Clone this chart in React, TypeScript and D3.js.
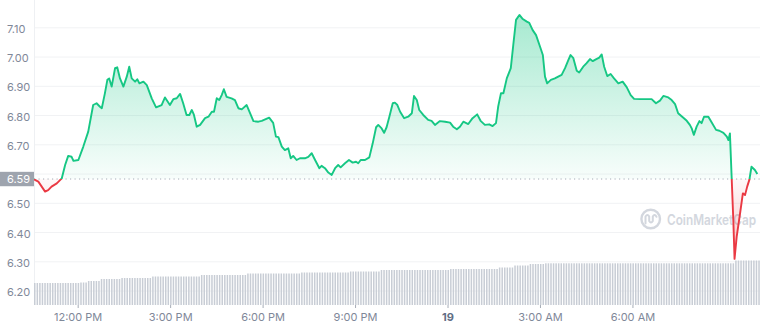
import React from "react";
import * as d3 from "d3";

const W = 760;
const H = 327;

// window start (10:34 AM, day 18) and span in hours
const START = Date.UTC(2023, 0, 18, 10, 34);
const HOUR = 3600e3;
const WINDOW_HOURS = 23.556;

// hours since window start
const PRICE_HOURS = [
  0, 0.14, 0.36, 0.46, 0.57, 0.74, 0.9, 1.01, 1.11, 1.22, 1.28, 1.44, 1.6, 1.76, 1.92, 2.03, 2.14, 2.2, 2.3, 2.38,
  2.44, 2.52, 2.63, 2.7, 2.79, 2.9, 3.01, 3.09, 3.17, 3.28, 3.35, 3.42, 3.55, 3.66, 3.82, 3.96, 4.14, 4.25, 4.41, 4.52,
  4.63, 4.74, 4.84, 4.95, 5.04, 5.12, 5.19, 5.28, 5.39, 5.55, 5.66, 5.77, 5.84, 5.93, 6.01, 6.09, 6.16, 6.25, 6.41, 6.52,
  6.63, 6.74, 6.9, 7.01, 7.12, 7.28, 7.39, 7.5, 7.63, 7.76, 7.85, 7.93, 8.04, 8.14, 8.25, 8.33, 8.41, 8.52, 8.63, 8.79,
  8.9, 9.01, 9.12, 9.26, 9.33, 9.44, 9.55, 9.66, 9.77, 9.87, 9.95, 10.09, 10.22, 10.34, 10.45, 10.52, 10.6, 10.74, 10.88, 10.99,
  11.1, 11.17, 11.28, 11.36, 11.44, 11.53, 11.64, 11.71, 11.79, 11.88, 12.01, 12.14, 12.26, 12.33, 12.42, 12.5, 12.63, 12.79, 12.9, 13.01,
  13.17, 13.34, 13.5, 13.6, 13.72, 13.82, 13.93, 14.09, 14.23, 14.38, 14.49, 14.63, 14.77, 14.88, 14.99, 15.06, 15.15, 15.23, 15.34, 15.47,
  15.55, 15.64, 15.75, 15.86, 15.99, 16.07, 16.18, 16.29, 16.42, 16.51, 16.58, 16.65, 16.77, 16.9, 17.04, 17.12, 17.23, 17.34, 17.41, 17.5,
  17.61, 17.69, 17.82, 17.93, 18.04, 18.13, 18.23, 18.34, 18.42, 18.5, 18.6, 18.71, 18.82, 18.96, 19.1, 19.23, 19.36, 19.47, 19.66, 19.88,
  20.04, 20.18, 20.31, 20.42, 20.58, 20.69, 20.8, 20.9, 21.05, 21.18, 21.28, 21.34, 21.41, 21.5, 21.59, 21.66, 21.74, 21.88, 21.99, 22.13,
  22.24, 22.37, 22.48, 22.53, 22.58, 22.61, 22.69, 22.73, 22.8, 22.91, 23.0, 23.07, 23.14, 23.21, 23.28, 23.39, 23.47,
];

const PRICES = [
  6.582, 6.574, 6.54, 6.545, 6.557, 6.568, 6.585, 6.631, 6.662, 6.659, 6.645, 6.648, 6.694, 6.745, 6.836, 6.842, 6.83, 6.825, 6.876, 6.922,
  6.927, 6.899, 6.962, 6.965, 6.927, 6.899, 6.933, 6.967, 6.927, 6.916, 6.924, 6.91, 6.916, 6.904, 6.859, 6.828, 6.836, 6.862, 6.836, 6.856,
  6.859, 6.874, 6.842, 6.802, 6.802, 6.819, 6.802, 6.762, 6.768, 6.791, 6.796, 6.813, 6.813, 6.859, 6.853, 6.87, 6.89, 6.864, 6.859, 6.853,
  6.825, 6.821, 6.836, 6.808, 6.781, 6.779, 6.782, 6.787, 6.793, 6.775, 6.728, 6.726, 6.694, 6.682, 6.688, 6.654, 6.662, 6.648, 6.654, 6.654,
  6.659, 6.671, 6.648, 6.62, 6.628, 6.62, 6.605, 6.597, 6.62, 6.631, 6.623, 6.637, 6.648, 6.639, 6.642, 6.637, 6.648, 6.648, 6.657, 6.705,
  6.76, 6.768, 6.756, 6.741, 6.76, 6.796, 6.842, 6.844, 6.836, 6.813, 6.791, 6.796, 6.808, 6.867, 6.853, 6.819, 6.802, 6.785, 6.782, 6.768,
  6.781, 6.779, 6.776, 6.762, 6.753, 6.762, 6.779, 6.771, 6.791, 6.804, 6.782, 6.768, 6.77, 6.764, 6.774, 6.83, 6.876, 6.876, 6.927, 6.962,
  7.041, 7.127, 7.144, 7.13, 7.121, 7.117, 7.092, 7.075, 7.035, 7.007, 6.933, 6.91, 6.922, 6.927, 6.935, 6.939, 6.962, 6.99, 7.007, 6.996,
  6.953, 6.947, 6.967, 6.979, 6.993, 6.986, 6.992, 6.998, 7.009, 6.967, 6.935, 6.942, 6.927, 6.91, 6.916, 6.897, 6.87, 6.857, 6.856, 6.856,
  6.856, 6.842, 6.851, 6.867, 6.862, 6.853, 6.839, 6.808, 6.794, 6.782, 6.768, 6.756, 6.734, 6.762, 6.781, 6.774, 6.796, 6.796, 6.776, 6.751,
  6.748, 6.741, 6.728, 6.716, 6.739, 6.659, 6.443, 6.31, 6.386, 6.466, 6.534, 6.528, 6.557, 6.58, 6.625, 6.614, 6.6,
];

const OPEN_PRICE = 6.583;
const OPEN_LABEL = "6.59";

const Y_TICKS = [7.1, 7.0, 6.9, 6.8, 6.7, 6.6, 6.5, 6.4, 6.3, 6.2];

const X_TICKS = [
  "2023-01-18T12:00:00Z",
  "2023-01-18T15:00:00Z",
  "2023-01-18T18:00:00Z",
  "2023-01-18T21:00:00Z",
  "2023-01-19T00:00:00Z",
  "2023-01-19T03:00:00Z",
  "2023-01-19T06:00:00Z",
];
const X_TICK_LABELS = ["12:00 PM", "3:00 PM", "6:00 PM", "9:00 PM", "19", "3:00 AM", "6:00 AM"];

// 24h volume (arbitrary units), 5-minute bars, run-length: [bars, value]
const VOLUME_RUNS: [number, number][] = [
  [18, 22], [3, 22.5], [5, 24], [8, 26], [12, 27], [19, 28.5], [18, 30], [21, 31.5], [19, 32.5],
  [12, 33.5], [27, 35], [19, 36], [6, 37.5], [6, 39.5], [6, 41], [74, 41.7], [10, 44.5],
];
const VOLUME_MAX = 45;
const BAR_MINUTES = 5;

const GREEN = "#16c784";
const RED = "#ea3943";
const FONT = "Inter, 'Noto Sans', sans-serif";

export default function App() {
  const x = d3
    .scaleUtc()
    .domain([new Date(START), new Date(START + WINDOW_HOURS * HOUR)])
    .range([34, 760]);
  const y = d3.scaleLinear().domain([6.2, 7.1]).range([291.05, 27.8]);
  const yv = d3.scaleLinear().domain([0, VOLUME_MAX]).range([305, 260]);

  const data = PRICE_HOURS.map((h, i) => ({ t: new Date(START + h * HOUR), p: PRICES[i] }));
  const yBase = y(OPEN_PRICE);

  const line = d3
    .line<{ t: Date; p: number }>()
    .x((d) => x(d.t))
    .y((d) => y(d.p));
  const area = d3
    .area<{ t: Date; p: number }>()
    .x((d) => x(d.t))
    .y0(yBase)
    .y1((d) => y(d.p));

  const volumes: number[] = [];
  VOLUME_RUNS.forEach(([n, v]) => {
    for (let k = 0; k < n; k++) volumes.push(v);
  });

  const pMax = d3.max(PRICES) as number;
  const pMin = d3.min(PRICES) as number;

  return (
    <svg
      width={W}
      height={H}
      style={{ position: "absolute", left: 0, top: 0, background: "#fff" }}
      fontFamily={FONT}
    >
      <defs>
        <linearGradient id="gUp" gradientUnits="userSpaceOnUse" x1={0} x2={0} y1={y(pMax)} y2={yBase}>
          <stop offset="0%" stopColor={GREEN} stopOpacity={0.38} />
          <stop offset="100%" stopColor={GREEN} stopOpacity={0.03} />
        </linearGradient>
        <linearGradient id="gDown" gradientUnits="userSpaceOnUse" x1={0} x2={0} y1={yBase} y2={y(pMin)}>
          <stop offset="0%" stopColor={RED} stopOpacity={0.03} />
          <stop offset="100%" stopColor={RED} stopOpacity={0.3} />
        </linearGradient>
        <clipPath id="cUp">
          <rect x={0} y={0} width={W} height={yBase} />
        </clipPath>
        <clipPath id="cDown">
          <rect x={0} y={yBase} width={W} height={H - yBase} />
        </clipPath>
      </defs>

      {/* grid */}
      {Y_TICKS.map((t) => (
        <line key={t} x1={34} x2={W} y1={y(t)} y2={y(t)} stroke="#f1f2f4" strokeWidth={1} />
      ))}
      <line x1={34.5} x2={34.5} y1={0} y2={305} stroke="#eef0f3" strokeWidth={1} />

      {/* volume bars */}
      {volumes.map((v, i) => {
        const bx = x(new Date(START + i * BAR_MINUTES * 60e3));
        return <rect key={i} x={bx} y={yv(v)} width={1.5} height={yv(0) - yv(v)} fill="#c8cdd5" />;
      })}

      {/* watermark */}
      <g opacity={1}>
        <circle cx={650.7} cy={219} r={9.3} fill="none" stroke="#d3d7de" strokeWidth={2.4} />
        <path
          d="M645.5,223.5 L645.5,216.5 Q647.5,213.5 649.2,216.5 L649.2,221 Q651,224 652.8,221 L652.8,216.5 Q654.5,213.5 656.5,216.8"
          fill="none"
          stroke="#d3d7de"
          strokeWidth={2}
          strokeLinecap="round"
        />
        <text
          x={667}
          y={219}
          dominantBaseline="central"
          fontSize={14}
          fontWeight={600}
          fill="#d3d7de"
          textLength={89}
          lengthAdjust="spacingAndGlyphs"
        >
          CoinMarketCap
        </text>
      </g>

      {/* areas */}
      <path d={area(data) || ""} fill="url(#gUp)" clipPath="url(#cUp)" />
      <path d={area(data) || ""} fill="url(#gDown)" clipPath="url(#cDown)" />

      {/* baseline */}
      <line x1={34} x2={W} y1={yBase} y2={yBase} stroke="#a7adb7" strokeWidth={1} strokeDasharray="1.2,3.3" />

      {/* price lines */}
      <path d={line(data) || ""} fill="none" stroke={GREEN} strokeWidth={1.9} strokeLinejoin="round" clipPath="url(#cUp)" />
      <path d={line(data) || ""} fill="none" stroke={RED} strokeWidth={1.9} strokeLinejoin="round" clipPath="url(#cDown)" />

      {/* y labels */}
      {Y_TICKS.filter((t) => Math.abs(t - 6.6) > 1e-6).map((t) => (
        <text key={t} x={7} y={y(t) + 1} dominantBaseline="central" fontSize={11} fill="#7f8899">
          {t.toFixed(2)}
        </text>
      ))}
      <rect x={0} y={yBase - 7.2} width={34} height={14.4} fill="#9ea4ae" />
      <text x={7} y={yBase + 0.3} dominantBaseline="central" fontSize={11} fill="#ffffff">
        {OPEN_LABEL}
      </text>

      {/* x axis */}
      {X_TICKS.map((s, i) => {
        const tx = x(new Date(s));
        const bold = X_TICK_LABELS[i] === "19";
        return (
          <g key={s}>
            <line x1={tx} x2={tx} y1={305} y2={308} stroke="#a7adb7" strokeWidth={1} />
            <text
              x={tx}
              y={317}
              textAnchor="middle"
              dominantBaseline="central"
              fontSize={11}
              fontWeight={bold ? 700 : 400}
              fill={bold ? "#616e85" : "#7f8899"}
            >
              {X_TICK_LABELS[i]}
            </text>
          </g>
        );
      })}
    </svg>
  );
}
